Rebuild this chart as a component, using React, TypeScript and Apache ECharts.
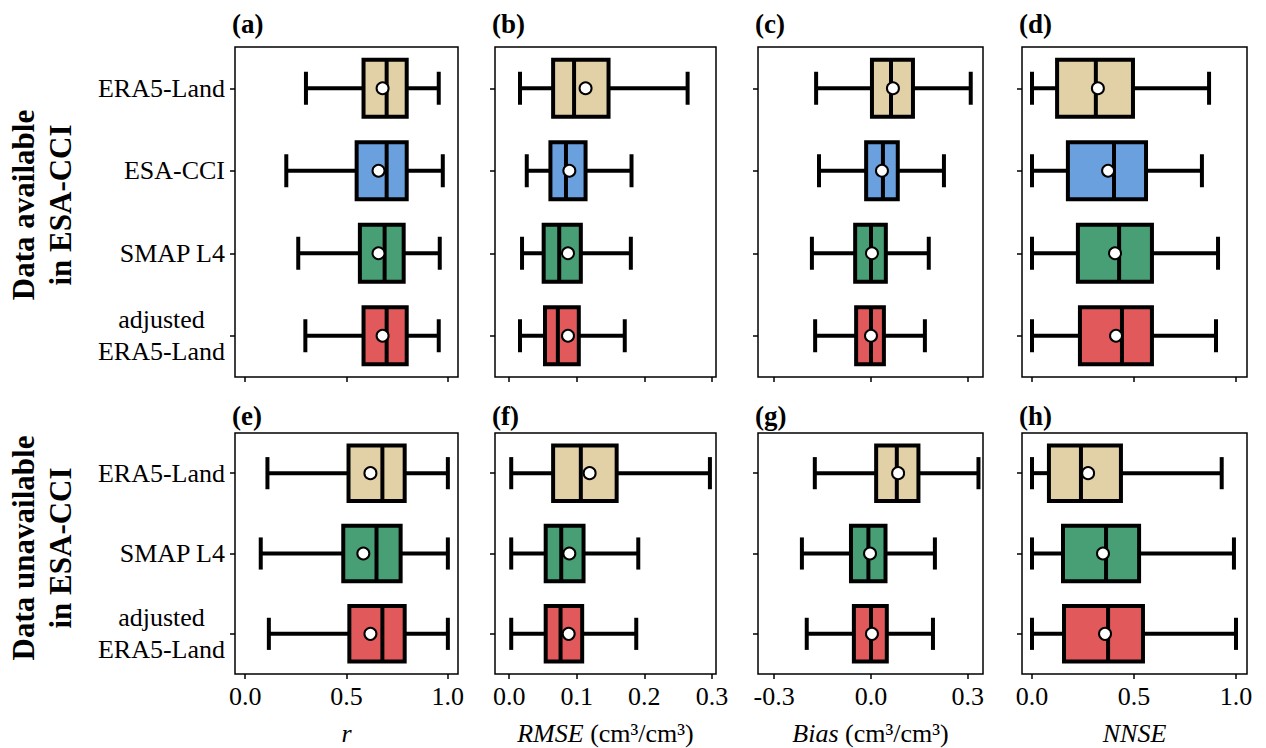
import { useEffect, useRef } from "react";
import * as echarts from "echarts";

const FONT = "Liberation Serif";

const catsAvail = ["ERA5-Land", "ESA-CCI", "SMAP L4", "adjusted\nERA5-Land"];
const catsUnavail = ["ERA5-Land", "SMAP L4", "adjusted\nERA5-Land"];
const colorsAvail = ["#E2D0A6", "#6BA0DF", "#489E75", "#E2595B"];
const colorsUnavail = ["#E2D0A6", "#489E75", "#E2595B"];
const panelLabels = ["(a)", "(b)", "(c)", "(d)", "(e)", "(f)", "(g)", "(h)"];

// each row: [lower whisker, Q1, median, Q3, upper whisker, mean]
const rAvail = [
  [0.3, 0.584, 0.698, 0.797, 0.955, 0.678],
  [0.203, 0.55, 0.698, 0.797, 0.975, 0.658],
  [0.262, 0.566, 0.688, 0.782, 0.96, 0.658],
  [0.297, 0.584, 0.698, 0.797, 0.955, 0.678],
];
const rmseAvail = [
  [0.016, 0.065, 0.096, 0.147, 0.264, 0.113],
  [0.026, 0.061, 0.084, 0.113, 0.181, 0.089],
  [0.019, 0.051, 0.074, 0.106, 0.18, 0.087],
  [0.016, 0.053, 0.072, 0.103, 0.171, 0.087],
];
const biasAvail = [
  [-0.17, 0.003, 0.062, 0.13, 0.309, 0.068],
  [-0.161, -0.015, 0.037, 0.083, 0.226, 0.034],
  [-0.183, -0.049, 0.0, 0.046, 0.179, 0.003],
  [-0.173, -0.046, 0.0, 0.04, 0.167, 0.0],
];
const nnseAvail = [
  [0.0, 0.123, 0.313, 0.495, 0.868, 0.323],
  [0.0, 0.176, 0.402, 0.559, 0.833, 0.373],
  [0.0, 0.225, 0.427, 0.588, 0.912, 0.407],
  [0.0, 0.235, 0.441, 0.588, 0.902, 0.412],
];
const rUnavail = [
  [0.11, 0.51, 0.677, 0.787, 1.0, 0.618],
  [0.077, 0.484, 0.648, 0.767, 1.0, 0.583],
  [0.117, 0.514, 0.677, 0.787, 1.0, 0.618],
];
const rmseUnavail = [
  [0.003, 0.065, 0.106, 0.159, 0.297, 0.119],
  [0.003, 0.054, 0.077, 0.11, 0.191, 0.089],
  [0.003, 0.054, 0.076, 0.108, 0.188, 0.088],
];
const biasUnavail = [
  [-0.174, 0.016, 0.08, 0.147, 0.333, 0.084],
  [-0.214, -0.062, -0.008, 0.045, 0.198, -0.003],
  [-0.199, -0.053, 0.0, 0.049, 0.192, 0.003],
];
const nnseUnavail = [
  [0.0, 0.083, 0.24, 0.436, 0.93, 0.275],
  [0.0, 0.152, 0.363, 0.525, 0.99, 0.348],
  [0.0, 0.157, 0.373, 0.544, 1.0, 0.358],
];

const metrics = [
  { name: "{i|r}", min: -0.05, max: 1.05, ticks: [0, 0.5, 1.0] },
  { name: "{i|RMSE}{n| (cm³/cm³)}", min: -0.021, max: 0.306, ticks: [0, 0.1, 0.2, 0.3] },
  { name: "{i|Bias}{n| (cm³/cm³)}", min: -0.35, max: 0.347, ticks: [-0.3, 0, 0.3] },
  { name: "{i|NNSE}", min: -0.049, max: 1.054, ticks: [0, 0.5, 1.0] },
];

const colLeft = [235, 495, 758, 1022];
const colWidth = [223, 221, 225, 225];
const rowTop = [47, 433];
const rowHeight = [330, 241];

const makeRender = (colors: string[]) => (params: any, api: any) => {
  const cat = api.value(0);
  const pt = (d: number) => api.coord([api.value(d), cat]);
  const [xLo, cy] = pt(1);
  const xQ1 = pt(2)[0];
  const xMed = pt(3)[0];
  const xQ3 = pt(4)[0];
  const xHi = pt(5)[0];
  const xMean = pt(6)[0];
  const band = api.size([0, 1])[1];
  const h = band * 0.69;
  const cap = band * 0.2;
  const line = { stroke: "#000", lineWidth: 4 };
  return {
    type: "group",
    children: [
      { type: "line", shape: { x1: xLo, y1: cy, x2: xQ1, y2: cy }, style: line },
      { type: "line", shape: { x1: xQ3, y1: cy, x2: xHi, y2: cy }, style: line },
      { type: "line", shape: { x1: xLo, y1: cy - cap, x2: xLo, y2: cy + cap }, style: line },
      { type: "line", shape: { x1: xHi, y1: cy - cap, x2: xHi, y2: cy + cap }, style: line },
      {
        type: "rect",
        shape: { x: xQ1, y: cy - h / 2, width: xQ3 - xQ1, height: h },
        style: { fill: colors[params.dataIndex], stroke: "#000", lineWidth: 4 },
      },
      { type: "line", shape: { x1: xMed, y1: cy - h / 2, x2: xMed, y2: cy + h / 2 }, style: line },
      {
        type: "circle",
        shape: { cx: xMean, cy, r: 6 },
        style: { fill: "#fff", stroke: "#000", lineWidth: 2 },
      },
    ],
  };
};

const App = () => {
  const chartRef = useRef(null);

  useEffect(() => {
    const chart = echarts.init(chartRef.current, null, { renderer: "svg" });

    const panels = [
      { data: rAvail, row: 0 },
      { data: rmseAvail, row: 0 },
      { data: biasAvail, row: 0 },
      { data: nnseAvail, row: 0 },
      { data: rUnavail, row: 1 },
      { data: rmseUnavail, row: 1 },
      { data: biasUnavail, row: 1 },
      { data: nnseUnavail, row: 1 },
    ];

    const grid: any[] = [];
    const xAxis: any[] = [];
    const yAxis: any[] = [];
    const series: any[] = [];

    panels.forEach((p, i) => {
      const col = i % 4;
      const m = metrics[col];
      const cats = p.row === 0 ? catsAvail : catsUnavail;
      const colors = p.row === 0 ? colorsAvail : colorsUnavail;

      grid.push({
        left: colLeft[col],
        top: rowTop[p.row],
        width: colWidth[col],
        height: rowHeight[p.row],
        show: true,
        borderColor: "#000",
        borderWidth: 1.5,
        backgroundColor: "transparent",
      });

      xAxis.push({
        type: "value",
        gridIndex: i,
        min: m.min,
        max: m.max,
        splitLine: { show: false },
        axisLine: { show: false, onZero: false },
        axisTick: {
          show: true,
          customValues: m.ticks,
          length: 5,
          lineStyle: { color: "#000", width: 1.5 },
        },
        axisLabel: {
          show: p.row === 1,
          customValues: m.ticks,
          formatter: (v: number) => v.toFixed(1),
          margin: 9,
          color: "#000",
          fontFamily: FONT,
          fontSize: 26,
        },
        name: p.row === 1 ? m.name : "",
        nameLocation: "middle",
        nameGap: 46,
        nameTextStyle: {
          color: "#000",
          fontFamily: FONT,
          fontSize: 26,
          rich: {
            i: { fontStyle: "italic", fontFamily: FONT, fontSize: 26, color: "#000" },
            n: { fontFamily: FONT, fontSize: 26, color: "#000" },
          },
        },
      });

      yAxis.push({
        type: "category",
        gridIndex: i,
        data: cats,
        inverse: true,
        axisLine: { show: false, onZero: false },
        axisTick: {
          show: true,
          alignWithLabel: true,
          length: 5,
          lineStyle: { color: "#000", width: 1.5 },
        },
        axisLabel: {
          show: col === 0,
          margin: 10,
          color: "#000",
          fontFamily: FONT,
          fontSize: 26,
          lineHeight: 32,
          formatter: (v: string) =>
            v.includes("\n")
              ? v
                  .split("\n")
                  .map((s) => `{c|${s}}`)
                  .join("\n")
              : v,
          rich: {
            c: {
              align: "center",
              fontFamily: FONT,
              fontSize: 26,
              lineHeight: 32,
              color: "#000",
            },
          },
        },
      });

      series.push({
        type: "custom",
        xAxisIndex: i,
        yAxisIndex: i,
        renderItem: makeRender(colors),
        encode: { x: [1, 2, 3, 4, 5, 6], y: 0 },
        data: p.data.map((d, k) => [k, ...d]),
      });
    });

    const graphic: any[] = panelLabels.map((t, i) => ({
      type: "text",
      x: colLeft[i % 4] - 3,
      y: i < 4 ? 24 : 416,
      style: {
        text: t,
        fontFamily: FONT,
        fontWeight: "bold",
        fontSize: 27,
        fill: "#000",
        verticalAlign: "middle",
        textVerticalAlign: "middle",
      },
    }));

    [
      { text: "Data available\nin ESA-CCI", y: 205 },
      { text: "Data unavailable\nin ESA-CCI", y: 548 },
    ].forEach((r) => {
      graphic.push({
        type: "text",
        x: 42,
        y: r.y,
        rotation: Math.PI / 2,
        style: {
          text: r.text,
          fontFamily: FONT,
          fontWeight: "bold",
          fontSize: 31,
          fill: "#000",
          lineHeight: 37,
          align: "center",
          verticalAlign: "middle",
          textAlign: "center",
          textVerticalAlign: "middle",
        },
      });
    });

    const option: any = {
      animation: false,
      backgroundColor: "#fff",
      grid,
      xAxis,
      yAxis,
      series,
      graphic,
    };

    chart.setOption(option);

    return () => {
      chart.dispose();
    };
  }, []);

  return (
    <div
      ref={chartRef}
      style={{ position: "absolute", left: 0, top: 0, width: "1266px", height: "748px" }}
    />
  );
};

export default App;
